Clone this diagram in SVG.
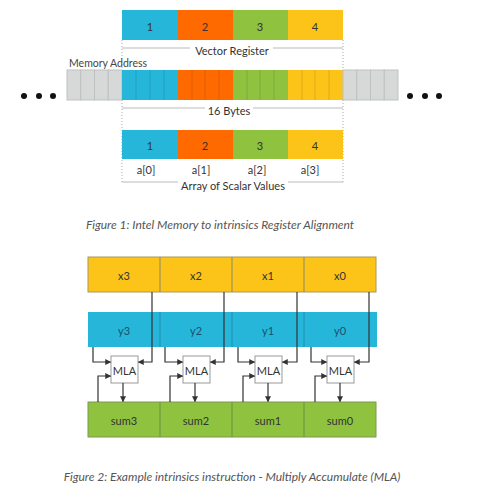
<svg xmlns="http://www.w3.org/2000/svg" width="484" height="491" viewBox="0 0 484 491">
<defs>
<style>
.t{font-family:Lato,"Open Sans","Liberation Sans",sans-serif;font-size:11px;fill:#333;text-anchor:middle;dominant-baseline:central}
.cap{font-family:Lato,"Open Sans","Liberation Sans",sans-serif;font-size:12px;font-style:italic;fill:#555;text-anchor:middle}
.byte{stroke:#000;stroke-opacity:0.12;stroke-width:1}
.g{fill:#d7d9d9;stroke:#bfc1c1;stroke-width:1}
.bl{fill:#26b6da}.or{fill:#ff6a00}.gr{fill:#8fc23f}.ye{fill:#fcc419}
.guide{stroke:#bbb;stroke-width:1.2;fill:none}
.dot{stroke:#aaa;stroke-width:1;stroke-dasharray:1 2;fill:none}
.cell2{stroke:#8a8a6a;stroke-width:1}
.wire{stroke:#333;stroke-width:1.2;fill:none;marker-end:url(#ah)}
.mla{fill:#fff;stroke:#999;stroke-width:1}
</style>
<marker id="ah" viewBox="0 0 8 8" refX="7" refY="4" markerWidth="6" markerHeight="6" orient="auto" markerUnits="userSpaceOnUse"><path d="M0,0 L8,4 L0,8 z" fill="#333"/></marker>
</defs>

<!-- Figure 1 -->
<g id="guides">
<path class="dot" d="M122,40 V183 M343,40 V183"/>
<path class="guide" d="M122,48 H190 M273,48 H343"/>
<path class="guide" d="M122,108 H205 M253,108 H343"/>
<path class="guide" d="M122,182 H178 M288,182 H343"/>
</g>

<g id="vector-register">
<rect class="bl" x="122" y="10" width="56" height="30"/>
<rect class="or" x="178" y="10" width="55" height="30"/>
<rect class="gr" x="233" y="10" width="55" height="30"/>
<rect class="ye" x="288" y="10" width="55" height="30"/>
<text class="t" x="150" y="26">1</text>
<text class="t" x="205" y="26">2</text>
<text class="t" x="260" y="26">3</text>
<text class="t" x="315" y="26">4</text>
<text class="t" x="232" y="50">Vector Register</text>
</g>

<g id="memory">
<text x="69" y="67" style="font-family:Lato,'Open Sans','Liberation Sans',sans-serif;font-size:10.5px;fill:#444">Memory Address</text>
<rect class="g" x="67" y="70" width="13.75" height="30"/>
<rect class="g" x="80.75" y="70" width="13.75" height="30"/>
<rect class="g" x="94.5" y="70" width="13.75" height="30"/>
<rect class="g" x="108.25" y="70" width="13.75" height="30"/>
<rect class="bl" x="122" y="70" width="56" height="30"/>
<rect class="or" x="178" y="70" width="55" height="30"/>
<rect class="gr" x="233" y="70" width="55" height="30"/>
<rect class="ye" x="288" y="70" width="55" height="30"/>
<path class="byte" d="M136,70V100 M150,70V100 M164,70V100 M192,70V100 M205,70V100 M219,70V100 M247,70V100 M260,70V100 M274,70V100 M302,70V100 M315,70V100 M329,70V100"/>
<rect class="g" x="343" y="70" width="13.75" height="30"/>
<rect class="g" x="356.75" y="70" width="13.75" height="30"/>
<rect class="g" x="370.5" y="70" width="13.75" height="30"/>
<rect class="g" x="384.25" y="70" width="13.75" height="30"/>
<circle cx="24" cy="96" r="3" fill="#111"/>
<circle cx="39" cy="96" r="3" fill="#111"/>
<circle cx="53" cy="96" r="3" fill="#111"/>
<circle cx="410" cy="96" r="3" fill="#111"/>
<circle cx="425" cy="96" r="3" fill="#111"/>
<circle cx="439" cy="96" r="3" fill="#111"/>
<text class="t" x="229" y="110">16 Bytes</text>
</g>

<g id="scalar-array">
<rect class="bl" x="122" y="130" width="56" height="29"/>
<rect class="or" x="178" y="130" width="55" height="29"/>
<rect class="gr" x="233" y="130" width="55" height="29"/>
<rect class="ye" x="288" y="130" width="55" height="29"/>
<text class="t" x="150" y="145">1</text>
<text class="t" x="205" y="145">2</text>
<text class="t" x="260" y="145">3</text>
<text class="t" x="315" y="145">4</text>
<text class="t" x="146" y="169">a[0]</text>
<text class="t" x="201" y="169">a[1]</text>
<text class="t" x="257" y="169">a[2]</text>
<text class="t" x="310" y="169">a[3]</text>
<text class="t" x="233" y="185">Array of Scalar Values</text>
</g>

<text class="cap" x="220" y="229">Figure 1: Intel Memory to intrinsics Register Alignment</text>

<!-- Figure 2 -->
<g id="x-register">
<rect x="88" y="257" width="288" height="35" fill="#fcc419" stroke="#a89a5a" stroke-width="1"/>
<path class="cell2" d="M160,257V292 M232,257V292 M304,257V292"/>
<text class="t" x="124" y="275">x3</text>
<text class="t" x="196" y="275">x2</text>
<text class="t" x="268" y="275">x1</text>
<text class="t" x="340" y="275">x0</text>
</g>

<g id="y-register">
<rect x="88" y="312" width="289" height="35" fill="#26b6da"/>
<path d="M160,312V347 M232,312V347 M304,312V347" stroke="#1e8fb0" stroke-width="1"/>
<text class="t" x="124" y="330" style="fill:#1d4f6e">y3</text>
<text class="t" x="196" y="330" style="fill:#1d4f6e">y2</text>
<text class="t" x="268" y="330" style="fill:#1d4f6e">y1</text>
<text class="t" x="340" y="330" style="fill:#1d4f6e">y0</text>
</g>

<g id="sum-register">
<rect x="88" y="402" width="288" height="35" fill="#8fc23f" stroke="#7a9a50" stroke-width="1"/>
<path d="M160,402V437 M232,402V437 M304,402V437" stroke="#6f8f45" stroke-width="1"/>
<text class="t" x="124" y="420">sum3</text>
<text class="t" x="196" y="420">sum2</text>
<text class="t" x="268" y="420">sum1</text>
<text class="t" x="340" y="420">sum0</text>
</g>

<g id="mla3"><rect class="mla" x="111" y="356" width="27" height="27"/><text class="t" x="124.5" y="370">MLA</text></g>
<g id="mla2"><rect class="mla" x="183" y="356" width="27" height="27"/><text class="t" x="196.5" y="370">MLA</text></g>
<g id="mla1"><rect class="mla" x="255" y="356" width="27" height="27"/><text class="t" x="268.5" y="370">MLA</text></g>
<g id="mla0"><rect class="mla" x="327" y="356" width="27" height="27"/><text class="t" x="340.5" y="370">MLA</text></g>

<g id="connectors">
<path class="wire" d="M152,292 V362 H138.5"/>
<path class="wire" d="M93,347 V362 H110.5"/>
<path class="wire" d="M98,402 V376 H110.5"/>
<path class="wire" d="M123,383 V401.5"/>

<path class="wire" d="M224,292 V362 H210.5"/>
<path class="wire" d="M165,347 V362 H182.5"/>
<path class="wire" d="M170,402 V376 H182.5"/>
<path class="wire" d="M195,383 V401.5"/>

<path class="wire" d="M297,292 V362 H282.5"/>
<path class="wire" d="M238,347 V362 H254.5"/>
<path class="wire" d="M243,402 V376 H254.5"/>
<path class="wire" d="M268,383 V401.5"/>

<path class="wire" d="M369,292 V362 H354.5"/>
<path class="wire" d="M311,347 V362 H326.5"/>
<path class="wire" d="M315,402 V376 H326.5"/>
<path class="wire" d="M340,383 V401.5"/>
</g>

<text class="cap" x="232" y="481">Figure 2: Example intrinsics instruction - Multiply Accumulate (MLA)</text>
</svg>
